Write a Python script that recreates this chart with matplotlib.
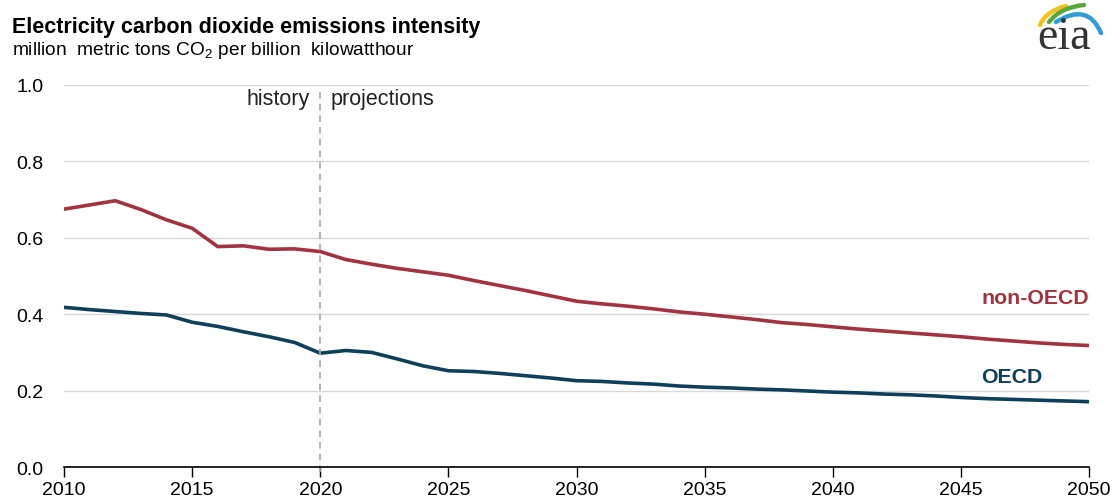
import numpy as np
import matplotlib
matplotlib.use('Agg')
from matplotlib import pyplot as plt
from matplotlib.path import Path
from matplotlib.patches import PathPatch

plt.rcParams['font.family'] = ['Liberation Sans', 'DejaVu Sans']
plt.rcParams['mathtext.fontset'] = 'custom'
plt.rcParams['mathtext.rm'] = 'Liberation Sans'

years = list(range(2010, 2051))

non_oecd = [0.675, 0.686, 0.697, 0.674, 0.647, 0.625, 0.577, 0.579, 0.570, 0.571,
            0.564, 0.543, 0.531, 0.520, 0.511, 0.502, 0.488, 0.475, 0.462, 0.448,
            0.434, 0.427, 0.421, 0.414, 0.406, 0.400, 0.393, 0.386, 0.378, 0.373,
            0.367, 0.361, 0.356, 0.351, 0.346, 0.341, 0.335, 0.330, 0.325, 0.321,
            0.318]
oecd = [0.418, 0.412, 0.407, 0.402, 0.398, 0.379, 0.368, 0.354, 0.341, 0.326,
        0.298, 0.305, 0.300, 0.283, 0.265, 0.252, 0.250, 0.245, 0.239, 0.233,
        0.226, 0.224, 0.220, 0.217, 0.212, 0.209, 0.207, 0.204, 0.202, 0.199,
        0.196, 0.194, 0.191, 0.189, 0.186, 0.182, 0.179, 0.177, 0.175, 0.173,
        0.171]

red = '#a33340'
blue = '#0f3f5a'

fig = plt.figure(figsize=(11.13, 5.02), dpi=100)
ax = fig.add_axes([0.0575, 0.0677, 0.921, 0.761])

ax.plot(years, non_oecd, color=red, lw=2.6, solid_joinstyle='round')
ax.plot(years, oecd, color=blue, lw=2.6, solid_joinstyle='round')

ax.set_xlim(2010, 2050)
ax.set_ylim(0, 1.0)
ax.set_xticks(range(2010, 2051, 5))
ax.set_yticks(np.arange(0, 1.01, 0.2))
ax.set_yticklabels(['0.0', '0.2', '0.4', '0.6', '0.8', '1.0'])
ax.grid(axis='y', color='#d9d9d9', lw=1)
ax.set_axisbelow(True)
for s in ['left', 'right', 'top']:
    ax.spines[s].set_visible(False)
ax.spines['bottom'].set_color('black')
ax.spines['bottom'].set_linewidth(1.2)
ax.tick_params(axis='x', direction='out', length=7, width=1, labelsize=14, pad=3)
ax.tick_params(axis='y', length=0, labelsize=14, pad=15)

# history / projections divider
ax.plot([2020, 2020], [-0.012, 0.99], color='#a6a6a6', lw=1.2, ls=(0, (4, 3)), clip_on=False)
ax.text(2019.6, 0.965, 'history', ha='right', va='center', fontsize=15.5, color='#222222')
ax.text(2020.4, 0.965, 'projections', ha='left', va='center', fontsize=15.5, color='#222222')

ax.text(2050, 0.443, 'non-OECD', ha='right', va='center', fontsize=15.3, fontweight='bold', color=red)
ax.text(2045.8, 0.238, 'OECD', ha='left', va='center', fontsize=15.3, fontweight='bold', color=blue)

fig.text(0.011, 0.945, 'Electricity carbon dioxide emissions intensity', fontsize=15.5,
         fontweight='bold', va='center', color='black')
fig.text(0.011, 0.900, r'million  metric tons CO$_\mathregular{2}$ per billion  kilowatthour',
         fontsize=13.8, va='center', color='black')

# eia logo, drawn in pixel space
lax = fig.add_axes([0, 0, 1, 1])
lax.set_xlim(0, 1113)
lax.set_ylim(502, 0)
lax.axis('off')
lax.text(1064, 49, 'eia', family='Liberation Serif', fontsize=33, ha='center',
         va='baseline', color='#333333')
swooshes = [
    ([(1040, 26), (1046, 12), (1066, 7)], '#f2c320'),
    ([(1049, 23), (1061, 8), (1084, 6)], '#5aa83c'),
    ([(1056, 23), (1088, 3), (1101, 34)], '#2f9ed8'),
]
for pts, c in swooshes:
    p = Path(pts, [Path.MOVETO, Path.CURVE3, Path.CURVE3])
    lax.add_patch(PathPatch(p, fc='none', ec=c, lw=3.2, capstyle='round'))

fig.savefig('out.png', dpi=100)
